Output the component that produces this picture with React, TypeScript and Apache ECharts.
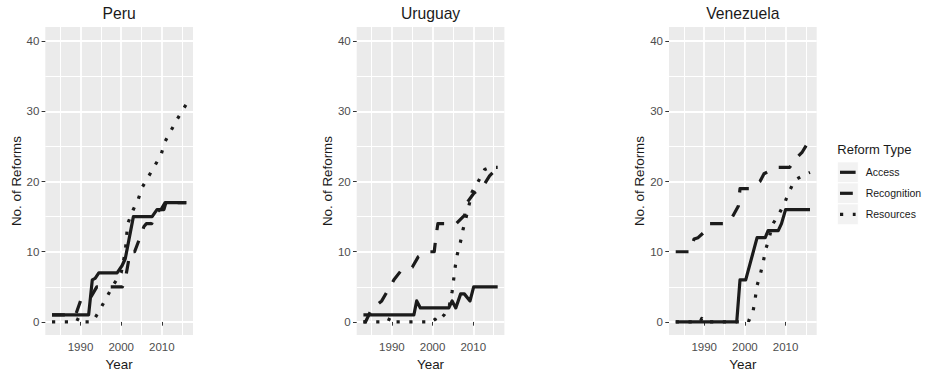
import React, { useEffect, useRef } from "react";
import * as echarts from "echarts";

// Facet names and reform types
const countries = ["Peru", "Uruguay", "Venezuela"];
const reformTypes = ["Access", "Recognition", "Resources"];

// Axis breaks
const yearTicks = [1990, 2000, 2010];
const yearMinor = [1985, 1995, 2005, 2015];
const countTicks = [0, 10, 20, 30, 40];
const countMinor = [5, 15, 25, 35];

// Cumulative reforms per country, [year, count]
const peruAccess = [
  [1983, 1], [1992, 1], [1992.9, 6], [1993.6, 6.2], [1994.5, 7], [1999, 7], [2000.2, 8], [2001, 9],
  [2003, 15], [2007.6, 15], [2008.8, 16], [2009.8, 16], [2010.8, 17], [2016, 17],
];
const peruRecognition = [
  [1983, 1], [1988.8, 1], [1990, 3], [1992, 3], [1994, 5], [2000.3, 5], [2001, 6], [2002.2, 10],
  [2003.3, 10], [2004.6, 12], [2005.6, 13.6], [2006.2, 14], [2007.5, 14], [2008.5, 15.5],
  [2009.5, 16], [2010.5, 16], [2011, 17], [2016, 17],
];
const peruResources = [
  [1983, 0], [1989, 0], [1989.5, 0.6], [1990.2, 0], [1993, 0], [1994, 1], [1995, 2], [1996.7, 3.8],
  [1998.2, 5.4], [2000, 7], [2001, 10], [2001.6, 14], [2002.9, 15.9], [2004.2, 17.5], [2005.2, 19.2],
  [2006.7, 20.7], [2008.3, 22.3], [2009.8, 23.8], [2010.7, 25.6], [2012.2, 27.2], [2013.8, 28.9],
  [2016, 31],
];

const uruguayAccess = [
  [1983, 1], [1995.4, 1], [1996.1, 3], [1997, 2], [2004, 2], [2004.8, 3], [2005.7, 2], [2006.9, 4],
  [2007.8, 4], [2009.2, 3], [2010.1, 5], [2016, 5],
];
const uruguayRecognition = [
  [1983, 0], [1983.5, 0], [1985, 1.8], [1987.5, 3], [1989, 4.5], [1990.5, 6], [1992.1, 7.2],
  [1995, 7.8], [1996.5, 9.3], [1998.5, 10], [2000.4, 10], [2000.8, 12], [2001.3, 14], [2005.8, 14],
  [2007.9, 15.2], [2008.1, 16.7], [2010.1, 18.3], [2012.4, 19.3], [2014, 20.8], [2016, 22],
];
const uruguayResources = [
  [1983, 0], [1989, 0], [1989.5, 0.6], [1990, 0], [2000, 0], [2000.6, 0.4], [2001, 0], [2002, 0.5],
  [2003, 1.1], [2004, 2], [2004.8, 4.3], [2005.6, 8], [2006.1, 9.7], [2006.9, 11.5], [2007.5, 13.2],
  [2008.5, 15.5], [2009.7, 18.5], [2011.4, 20.2], [2012.8, 21.7], [2014, 22], [2016, 22],
];

const venezuelaAccess = [
  [1983, 0], [1998, 0], [1998.8, 6], [2000.2, 6], [2003, 12], [2005, 12], [2005.7, 13], [2008.2, 13],
  [2009, 14], [2010, 16], [2016, 16],
];
const venezuelaRecognition = [
  [1983, 10], [1986.5, 10], [1987.5, 11.8], [1988.5, 12], [1989.8, 12.7], [1991, 14], [1995, 14],
  [1996.5, 14.5], [1998.4, 16.5], [1998.8, 19], [2001.2, 19], [2002.5, 19.5], [2003.7, 20],
  [2004.7, 21.1], [2006, 21.5], [2007.5, 22], [2011, 22], [2012.4, 23.2], [2014.1, 24.2], [2016, 26],
];
const venezuelaResources = [
  [1983, 0], [1989, 0], [1989.4, 0.5], [1990, 0], [2000, 0], [2000.4, 0.3], [2001, 0.2], [2002, 1.5],
  [2002.5, 3.1], [2002.9, 5], [2003.8, 6.8], [2004.5, 8.5], [2005.1, 10.3], [2006, 12], [2006.7, 13.8],
  [2008.4, 15.4], [2009.8, 17], [2010.9, 18.6], [2012.3, 20.2], [2014.7, 21], [2016, 21.3],
];

const panelData = [
  [peruAccess, peruRecognition, peruResources],
  [uruguayAccess, uruguayRecognition, uruguayResources],
  [venezuelaAccess, venezuelaRecognition, venezuelaResources],
];

// Layout
const FONT = "'Liberation Sans', Arial, Helvetica, sans-serif";
const INK = "#1b1b1b";
const LINE_W = 3.2;
const dashFor = [
  "solid",
  [12.8, 12.8],
  [3.2, 9.6],
] as any[];

const panelLeft = [45.3, 356.7, 669];
const panelWidth = 147.7;
const panelTop = 27;
const panelHeight = 311.3;
const yearMin = 1981.35;
const yearMax = 2017.65;
const countMin = -1.87;
const countMax = 42.0;

const plain = (v: number) => String(v);

function buildOption() {
  const grid: any[] = [];
  const xAxis: any[] = [];
  const yAxis: any[] = [];
  const series: any[] = [];
  const title: any[] = [];

  countries.forEach((country, i) => {
    grid.push({
      left: panelLeft[i],
      top: panelTop,
      width: panelWidth,
      height: panelHeight,
      show: true,
      backgroundColor: "#EBEBEB",
      borderWidth: 0,
    });

    title.push({
      text: country,
      left: panelLeft[i] + panelWidth / 2,
      top: 5,
      textAlign: "center",
      padding: 0,
      textStyle: { fontFamily: FONT, fontSize: 15.7, fontWeight: "normal", color: "#1a1a1a" },
    });

    xAxis.push({
      type: "value",
      gridIndex: i,
      min: yearMin,
      max: yearMax,
      name: "Year",
      nameLocation: "middle",
      nameGap: 17,
      nameTextStyle: { fontFamily: FONT, fontSize: 13.4, color: "#1a1a1a" },
      axisLine: { show: false },
      axisTick: { show: true, customValues: yearTicks, length: 3.7, lineStyle: { color: "#333333", width: 1 } },
      axisLabel: {
        customValues: yearTicks,
        formatter: plain,
        margin: 6,
        color: "#4d4d4d",
        fontSize: 11.5,
        fontFamily: FONT,
      },
      splitLine: { show: true, lineStyle: { color: "#ffffff", width: 1.8 } },
    });

    yAxis.push({
      type: "value",
      gridIndex: i,
      min: countMin,
      max: countMax,
      name: "No. of Reforms",
      nameLocation: "middle",
      nameGap: 22,
      nameTextStyle: { fontFamily: FONT, fontSize: 13.4, color: "#1a1a1a" },
      axisLine: { show: false },
      axisTick: { show: true, customValues: countTicks, length: 3.7, lineStyle: { color: "#333333", width: 1 } },
      axisLabel: {
        customValues: countTicks,
        formatter: plain,
        margin: 6,
        color: "#4d4d4d",
        fontSize: 11.5,
        fontFamily: FONT,
      },
      splitLine: { show: true, lineStyle: { color: "#ffffff", width: 1.8 } },
    });

    // minor grid lines, placed through the panel's own axes
    series.push({
      name: "minor-grid-" + i,
      type: "line",
      xAxisIndex: i,
      yAxisIndex: i,
      data: [],
      silent: true,
      z: 1,
      markLine: {
        silent: true,
        z: 1,
        symbol: "none",
        animation: false,
        label: { show: false },
        emphasis: { disabled: true },
        lineStyle: { color: "#ffffff", width: 1, type: "solid", opacity: 1 },
        data: [
          ...yearMinor.map((v) => ({ xAxis: v })),
          ...countMinor.map((v) => ({ yAxis: v })),
        ],
      },
    });

    reformTypes.forEach((type, j) => {
      series.push({
        name: type,
        type: "line",
        xAxisIndex: i,
        yAxisIndex: i,
        data: panelData[i][j],
        symbol: "none",
        showSymbol: false,
        silent: true,
        z: 3 + j,
        lineStyle: { color: INK, width: LINE_W, type: dashFor[j], cap: "butt", join: "round" },
      });
    });
  });

  // legend drawn as ggplot-style keys
  const legendX = 837.3;
  const keyTop = 161.8;
  const keySize = 21;
  const graphic: any[] = [
    {
      type: "text",
      x: legendX,
      y: 149,
      style: { text: "Reform Type", fontFamily: FONT, fontSize: 13, fill: "#1a1a1a", textVerticalAlign: "middle" },
    },
  ];
  reformTypes.forEach((type, j) => {
    const cy = keyTop + keySize * j + keySize / 2;
    graphic.push({
      type: "rect",
      shape: { x: legendX, y: keyTop + keySize * j, width: keySize, height: keySize },
      style: { fill: "#F2F2F2", stroke: "#ffffff", lineWidth: 1 },
    });
    graphic.push({
      type: "line",
      shape: { x1: legendX + 2.7, y1: cy, x2: legendX + keySize - 2.7, y2: cy },
      style: {
        stroke: INK,
        lineWidth: LINE_W,
        lineDash: j === 0 ? null : dashFor[j],
        lineCap: "butt",
      },
    });
    graphic.push({
      type: "text",
      x: legendX + 28.4,
      y: cy,
      style: { text: type, fontFamily: FONT, fontSize: 10.5, fill: "#1a1a1a", textVerticalAlign: "middle" },
    });
  });

  return {
    animation: false,
    backgroundColor: "#ffffff",
    textStyle: { fontFamily: FONT },
    title,
    grid,
    xAxis,
    yAxis,
    series,
    graphic,
  };
}

export default function App() {
  const ref = useRef<HTMLDivElement>(null);

  useEffect(() => {
    if (!ref.current) return;
    const chart = echarts.init(ref.current, undefined, { renderer: "svg" });
    chart.setOption(buildOption() as any);
    return () => chart.dispose();
  }, []);

  return (
    <div
      ref={ref}
      style={{ position: "absolute", left: 0, top: 0, width: 930, height: 376, background: "#ffffff" }}
    />
  );
}
